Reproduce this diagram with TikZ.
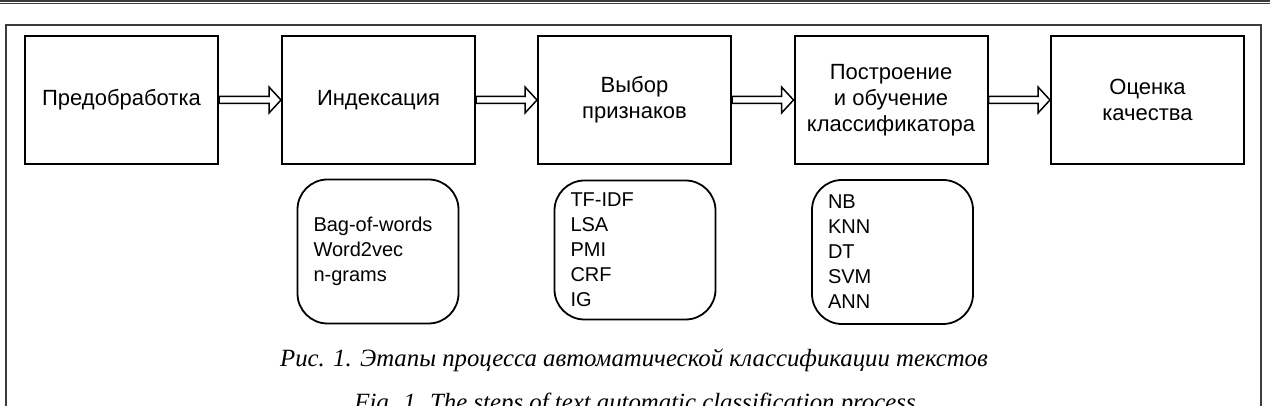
\documentclass[tikz,border=0pt]{standalone}
\usepackage{fontspec}
\setmainfont{Liberation Serif}
\setsansfont{Liberation Sans}
\usepackage{tikz}
\usetikzlibrary{calc}
\definecolor{rulegray}{HTML}{3C3C3C}

\begin{document}
\begin{tikzpicture}[
  x=0.5pt, y=-0.5pt,
  font=\sffamily\fontsize{10}{12.5}\selectfont,
  stage/.style={draw, line width=1pt, minimum width=96.5pt, minimum height=64pt,
                inner sep=1pt, align=center, font=\sffamily\fontsize{11}{13}\selectfont},
  methods/.style={draw, line width=0.9pt, rounded corners=15pt, minimum width=80.5pt,
                  minimum height=72pt, text width=64.5pt, inner xsep=8pt, align=left},
  blockarr/.style={draw, line width=0.75pt, fill=white, to path={
    let \p1=(\tikztostart.east), \p2=(\tikztotarget.west) in
    (\x1,\y1+1.75pt) -- (\x2-6pt,\y1+1.75pt) -- (\x2-6pt,\y1+6.5pt) -- (\x2,\y1)
    -- (\x2-6pt,\y1-6.5pt) -- (\x2-6pt,\y1-1.75pt) -- (\x1,\y1-1.75pt) -- cycle}},
  capt/.style={anchor=base, font=\rmfamily\itshape\fontsize{12.4}{15}\selectfont},
]
\useasboundingbox (0,0) rectangle (1270,406);
% rules and frame
\draw[rulegray, line width=1pt] (0,1) -- (1270,1);
\draw[rulegray, line width=0.5pt] (0,4) -- (1270,4);
\draw[rulegray, line width=1pt] (6,406) |- (1261,25) -- (1261,406);

\node[stage] (pre) at (121.5,100) {Предобработка};
\node[stage] (idx) at (378.5,100) {Индексация};
\node[stage] (sel) at (634.5,100) {Выбор\\признаков};
\node[stage] (clf) at (891,100)   {Построение\\и обучение\\классификатора};
\node[stage] (qual) at (1147.5,100) {Оценка\\качества};

\draw[blockarr] (pre) to (idx);
\draw[blockarr] (idx) to (sel);
\draw[blockarr] (sel) to (clf);
\draw[blockarr] (clf) to (qual);

\node[methods] (idxm) at (378,251.5) {Bag-of-words\\Word2vec\\n-grams};
\node[methods, minimum height=69.5pt] (selm) at (635,250) {TF-IDF\\LSA\\PMI\\CRF\\IG};
\node[methods] (clfm) at (892.5,252) {NB\\KNN\\DT\\SVM\\ANN};

\node[capt] (capru) at (634,367) {Рис. 1. Этапы процесса автоматической классификации текстов};
\node[capt] (capen) at (635,411) {Fig. 1. The steps of text automatic classification process};
\end{tikzpicture}
\end{document}
